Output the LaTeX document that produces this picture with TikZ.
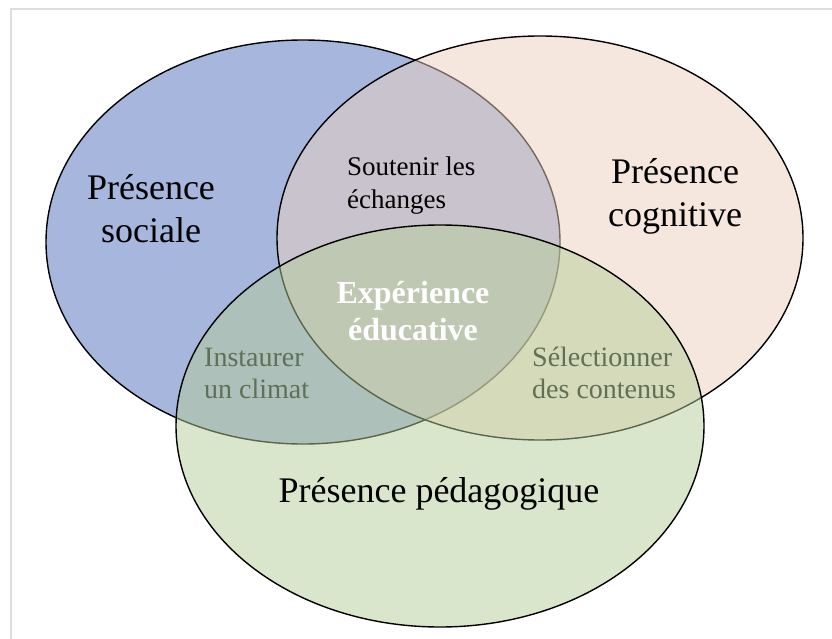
\documentclass[tikz,border=0pt]{standalone}
\usepackage{fontspec}
\setmainfont{Liberation Serif}
\usetikzlibrary{shapes.geometric}

\definecolor{socialblue}{RGB}{166,182,221}
\definecolor{cognitivepeach}{RGB}{236,208,190}
\definecolor{pedagreen}{RGB}{180,205,152}
\definecolor{softgreen}{RGB}{95,112,86}
\definecolor{framegray}{RGB}{221,221,221}

\begin{document}
\begin{tikzpicture}[x=1pt,y=-1pt,
  presence/.style={ellipse,draw=black,draw opacity=1,line width=1.4pt,inner sep=0pt,outer sep=0pt,fill opacity=0.5},
  bigtext/.style={align=center,inner sep=0pt,font=\fontsize{36}{43}\selectfont},
  midtext/.style={align=left,anchor=west,inner sep=0pt,font=\fontsize{28}{32}\selectfont}]
  \useasboundingbox (0,0) rectangle (832,639);
  \draw[framegray,line width=2pt] (11,639) -- (11,9) -- (832,9);

  \node[presence,fill=socialblue,fill opacity=1,minimum width=514pt,minimum height=404pt] (SOCIAL) at (303,242) {};
  \node[presence,fill=cognitivepeach,minimum width=526pt,minimum height=404pt] (COGNITIVE) at (540,238) {};
  \node[presence,fill=pedagreen,minimum width=528pt,minimum height=402pt] (PEDAGOGIC) at (440,426) {};

  \node[bigtext] (SOCIALTXT) at (151,209) {Présence\\sociale};
  \node[bigtext] (COGNITIVETXT) at (675,196) {Présence\\cognitive};
  \node[bigtext] (PEDAGOGICTXT) at (439,494) {Présence pédagogique};

  \node[midtext,font=\fontsize{27}{33}\selectfont] (ECHANGES) at (347,186) {Soutenir les\\échanges};
  \node[midtext,text=softgreen] (CLIMAT) at (204,373) {Instaurer\\un climat};
  \node[midtext,text=softgreen] (CONTENUS) at (532,373) {Sélectionner\\des contenus};
  \node[bigtext,text=white,font=\fontsize{32}{37}\selectfont\bfseries] (EXPERIENCE) at (413,311) {Expérience\\éducative};
\end{tikzpicture}
\end{document}
